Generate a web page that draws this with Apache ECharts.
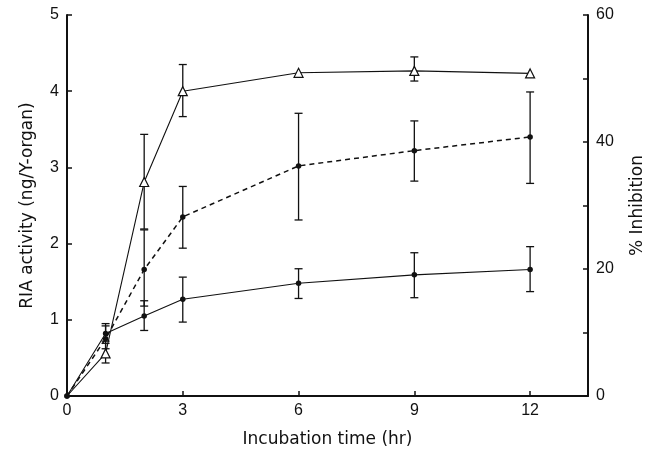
<!DOCTYPE html>
<html>
<head>
<meta charset="utf-8">
<script src="https://cdn.jsdelivr.net/npm/echarts@6/dist/echarts.min.js"></script>
<style>
  html, body { margin: 0; padding: 0; background: #fff; }
  #main { width: 655px; height: 453px; }
</style>
</head>
<body>
<div id="main"></div>
<script>
// incubation time (hr)
const hours = [0, 1, 2, 3, 6, 9, 12]
const xTicks = [0, 3, 6, 9, 12]

// % inhibition, open triangles (right axis)
const inhibition = [0, 6.7, 33.7, 48, 50.9, 51.2, 50.8]
const inhibitionLow = [null, 5.2, 26.3, 44, null, 49.6, null]
const inhibitionHigh = [null, 8.3, 41.2, 52.2, null, 53.4, null]

// RIA activity, dashed line with dots (left axis)
const riaDashed = [0, 0.75, 1.66, 2.35, 3.02, 3.22, 3.40]
const riaDashedLow = [null, 0.62, 1.18, 1.94, 2.31, 2.82, 2.79]
const riaDashedHigh = [null, 0.92, 2.18, 2.75, 3.71, 3.61, 3.99]

// RIA activity, solid line with dots (left axis)
const riaSolid = [0, 0.82, 1.05, 1.27, 1.48, 1.59, 1.66]
const riaSolidLow = [null, 0.72, 0.86, 0.97, 1.28, 1.29, 1.37]
const riaSolidHigh = [null, 0.95, 1.25, 1.56, 1.67, 1.88, 1.96]

const font = '"Liberation Sans", Arial, sans-serif'
const nameFont = '"DejaVu Sans", sans-serif'

let pairs = (ys) => hours.map((h, i) => [h, ys[i]])

let bars = (low, high) => {
    let out = []
    hours.forEach((h, i) => {
        if (low[i] != null) out.push([h, low[i], high[i]])
    })
    return out
}

// error bar with caps, drawn through the axis scales
let errorBarSeries = (data, yAxisIndex) => ({
    type: 'custom',
    yAxisIndex: yAxisIndex,
    data: data,
    silent: true,
    z: 1,
    renderItem: (params, api) => {
        let lo = api.coord([api.value(0), api.value(1)])
        let hi = api.coord([api.value(0), api.value(2)])
        let w = 4
        let style = { stroke: '#111', lineWidth: 1.3 }
        return {
            type: 'group',
            children: [
                { type: 'line', shape: { x1: lo[0], y1: lo[1], x2: hi[0], y2: hi[1] }, style },
                { type: 'line', shape: { x1: hi[0] - w, y1: hi[1], x2: hi[0] + w, y2: hi[1] }, style },
                { type: 'line', shape: { x1: lo[0] - w, y1: lo[1], x2: lo[0] + w, y2: lo[1] }, style }
            ]
        }
    }
})

let axisCommon = {
    axisLine: { show: true, lineStyle: { color: '#111', width: 2 } },
    axisTick: { show: true, inside: true, length: 5, lineStyle: { color: '#111', width: 1.5 } },
    axisLabel: { color: '#111', fontSize: 16, fontFamily: font },
    splitLine: { show: false },
    nameTextStyle: { color: '#111', fontSize: 17, fontFamily: nameFont }
}

// no triangle drawn at the origin, only the shared dot
let triangleData = pairs(inhibition).map((p, i) => i === 0 ? { value: p, symbol: 'none' } : p)

let chart = echarts.init(document.getElementById('main'))
chart.setOption({
    animation: false,
    backgroundColor: '#fff',
    grid: { left: 67, right: 67, top: 15, bottom: 55, containLabel: false },
    xAxis: {
        ...axisCommon,
        type: 'value',
        min: 0,
        max: 13.5,
        name: 'Incubation time (hr)',
        nameLocation: 'middle',
        nameGap: 35,
        axisTick: { ...axisCommon.axisTick, customValues: xTicks },
        axisLabel: { ...axisCommon.axisLabel, customValues: xTicks, margin: 7 }
    },
    yAxis: [
        {
            ...axisCommon,
            type: 'value',
            min: 0,
            max: 5,
            interval: 1,
            name: 'RIA activity (ng/Y-organ)',
            nameLocation: 'middle',
            nameRotate: 90,
            nameGap: 31
        },
        {
            ...axisCommon,
            type: 'value',
            position: 'right',
            min: 0,
            max: 60,
            interval: 10,
            name: '% Inhibition',
            nameLocation: 'middle',
            nameRotate: 90,
            nameGap: 41,
            axisLabel: {
                ...axisCommon.axisLabel,
                formatter: (v) => (v % 20 === 0 ? String(v) : '')
            }
        }
    ],
    series: [
        errorBarSeries(bars(inhibitionLow, inhibitionHigh), 1),
        errorBarSeries(bars(riaDashedLow, riaDashedHigh), 0),
        errorBarSeries(bars(riaSolidLow, riaSolidHigh), 0),
        {
            name: 'inhibition',
            type: 'line',
            yAxisIndex: 1,
            data: triangleData,
            symbol: 'triangle',
            symbolSize: 9,
            lineStyle: { color: '#111', width: 1.1 },
            itemStyle: { color: '#fff', borderColor: '#111', borderWidth: 1.2 },
            z: 3
        },
        {
            name: 'ria_dashed',
            type: 'line',
            yAxisIndex: 0,
            data: pairs(riaDashed),
            symbol: 'circle',
            symbolSize: 5.5,
            lineStyle: { color: '#111', width: 1.5, type: [5, 4] },
            itemStyle: { color: '#111' },
            z: 3
        },
        {
            name: 'ria_solid',
            type: 'line',
            yAxisIndex: 0,
            data: pairs(riaSolid),
            symbol: 'circle',
            symbolSize: 5.5,
            lineStyle: { color: '#111', width: 1.1 },
            itemStyle: { color: '#111' },
            z: 3
        }
    ]
})
</script>
</body>
</html>
